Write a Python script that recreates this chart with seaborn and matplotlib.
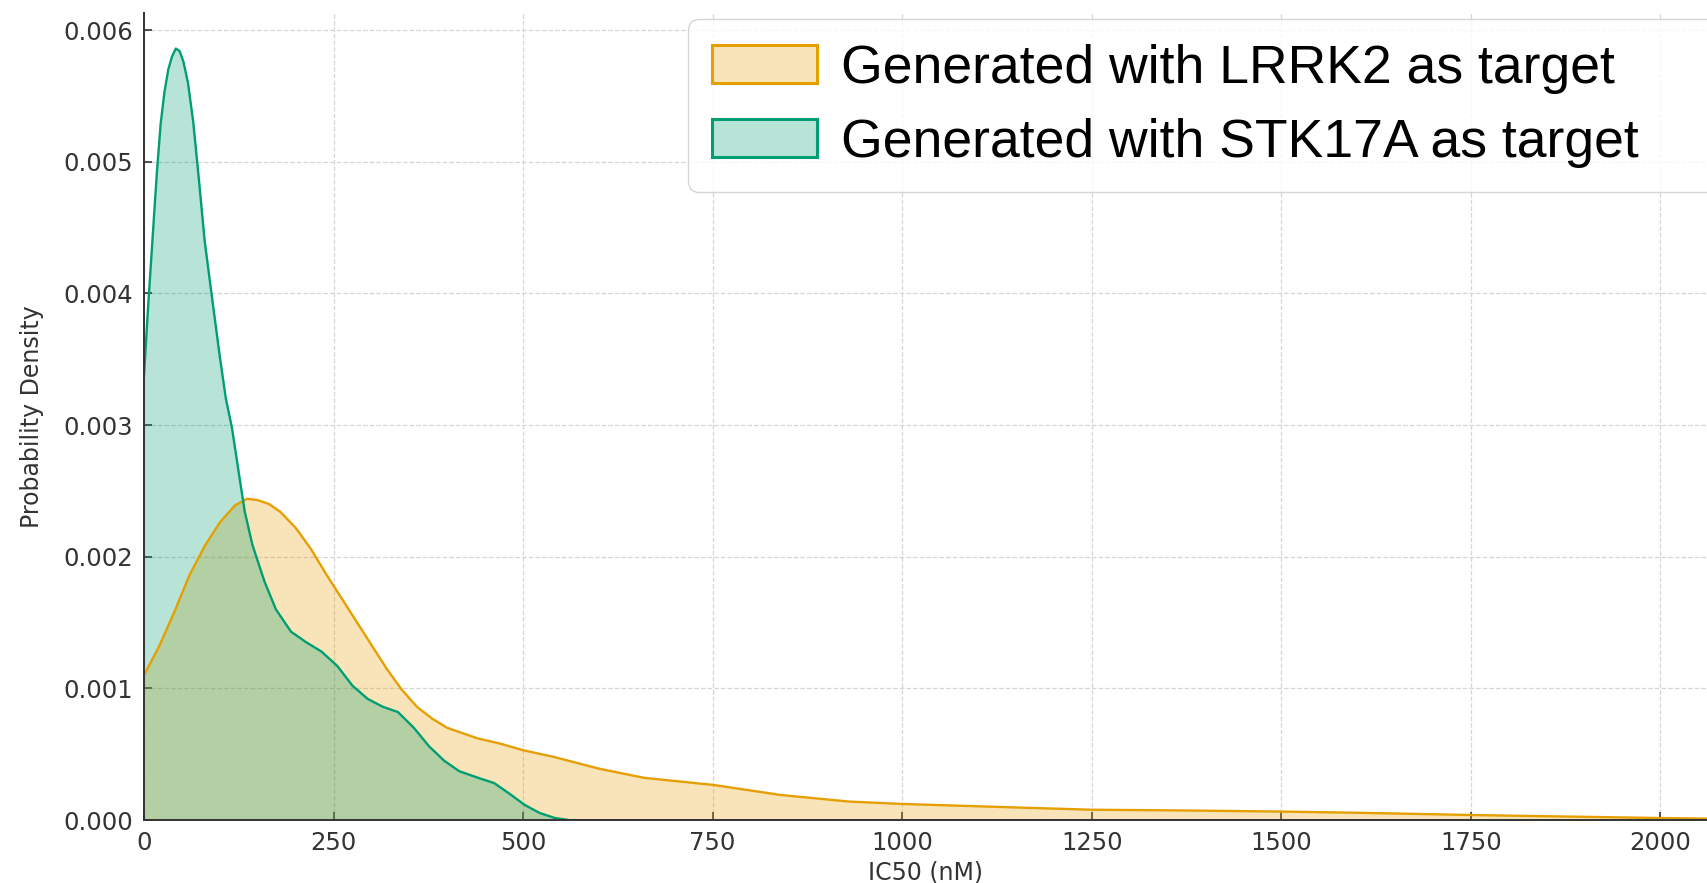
import matplotlib
matplotlib.use("Agg")
import matplotlib.pyplot as plt
import seaborn as sns
from matplotlib.patches import Patch
from matplotlib.ticker import FormatStrFormatter

# Density curves (IC50 in nM, density)
lrrk2_x = [0, 20, 40, 60, 80, 100, 120, 136, 150, 165, 180, 200, 220, 240, 260, 280,
           300, 320, 340, 360, 380, 400, 420, 440, 470, 500, 540, 600, 660, 750,
           840, 930, 1000, 1140, 1250, 1380, 1500, 1600, 1750, 1900, 2000, 2070]
lrrk2_y = [0.00110, 0.00132, 0.00158, 0.00186, 0.00208, 0.00226, 0.00239, 0.00244,
           0.00243, 0.00240, 0.00234, 0.00222, 0.00206, 0.00187, 0.00169, 0.00151,
           0.00133, 0.00115, 0.00099, 0.00086, 0.00077, 0.00070, 0.00066, 0.00062,
           0.00058, 0.00053, 0.00048, 0.00039, 0.00032, 0.000267,
           0.00019, 0.00014, 0.000122, 0.000097, 0.000078, 0.000072, 0.000064,
           0.000055, 0.000038, 0.000024, 0.000015, 0.00001]

stk17a_x = [0, 6, 12, 17, 22, 27, 32, 37, 42, 47, 52, 58, 65, 73, 80, 89, 100, 108,
            116, 126, 133, 143, 159, 174, 194, 214, 234, 255, 275, 295, 315, 335,
            356, 376, 396, 416, 441, 462, 482, 502, 522, 542, 560]
stk17a_y = [0.00338, 0.00395, 0.00448, 0.00492, 0.00529, 0.00553, 0.00570, 0.00580,
            0.00586, 0.00584, 0.00576, 0.00560, 0.00530, 0.00483, 0.00440, 0.00400,
            0.00352, 0.00320, 0.00298, 0.00260, 0.00234, 0.00209, 0.00181, 0.00160,
            0.00143, 0.00135, 0.00128, 0.00117, 0.00102, 0.00092, 0.00086, 0.00082,
            0.00070, 0.00056, 0.00045, 0.00037, 0.00032, 0.00028, 0.00020, 0.000115,
            0.000053, 0.000015, 0.0]

labels = ["Generated with LRRK2 as target", "Generated with STK17A as target"]
colors = ["#E69F00", "#009E73"]
x_ticks = [0, 250, 500, 750, 1000, 1250, 1500, 1750, 2000]
y_ticks = [0.000, 0.001, 0.002, 0.003, 0.004, 0.005, 0.006]

sns.set_theme(style="whitegrid", rc={
    "grid.linestyle": "--",
    "grid.color": "#d6d6d6",
    "grid.linewidth": 0.9,
    "axes.edgecolor": "#333333",
    "axes.linewidth": 1.4,
    "xtick.direction": "in",
    "ytick.direction": "in",
    "xtick.bottom": True,
    "ytick.left": True,
    "xtick.color": "#333333",
    "ytick.color": "#333333",
    "xtick.major.size": 6,
    "ytick.major.size": 6,
    "xtick.major.width": 1.2,
    "ytick.major.width": 1.2,
})
plt.rcParams["font.family"] = ["DejaVu Sans"]

fig = plt.figure(figsize=(17.08, 8.83), dpi=100)
ax = fig.add_axes([144 / 1708, 63 / 883, 1 - 144 / 1708, (820 - 13) / 883])

series = [(lrrk2_x, lrrk2_y), (stk17a_x, stk17a_y)]
for (xs, ys), c in zip(series, colors):
    ax.fill_between(xs, ys, 0, color=c, alpha=0.28, linewidth=0)
    sns.lineplot(x=xs, y=ys, color=c, linewidth=1.7, ax=ax)

ax.set_xlim(0, 2063)
ax.set_ylim(0, 0.00613)
ax.set_xticks(x_ticks)
ax.set_yticks(y_ticks)
ax.yaxis.set_major_formatter(FormatStrFormatter("%.3f"))
ax.tick_params(axis="both", labelsize=17.5, pad=8, labelcolor="#333333")
ax.set_xlabel("IC50 (nM)", fontsize=17, color="#333333", labelpad=4)
ax.set_ylabel("Probability Density", fontsize=17, color="#333333", labelpad=14)
sns.despine(ax=ax, top=True, right=True)

handles = [Patch(facecolor=matplotlib.colors.to_rgba(c, 0.28), edgecolor=c,
                 linewidth=2.2, label=l)
           for c, l in zip(colors, labels)]
leg = ax.legend(handles=handles, loc="upper left", bbox_to_anchor=(0.348, 0.0, 0.75, 0.992),
                mode="expand", prop={"family": "Liberation Sans", "size": 38.5},
                labelcolor="black",
                handlelength=1.95, handleheight=0.7, handletextpad=0.45,
                labelspacing=0.45, borderpad=0.45, borderaxespad=0,
                framealpha=0.8, edgecolor="#cccccc", fancybox=True)

fig.savefig("out.png", dpi=100)
